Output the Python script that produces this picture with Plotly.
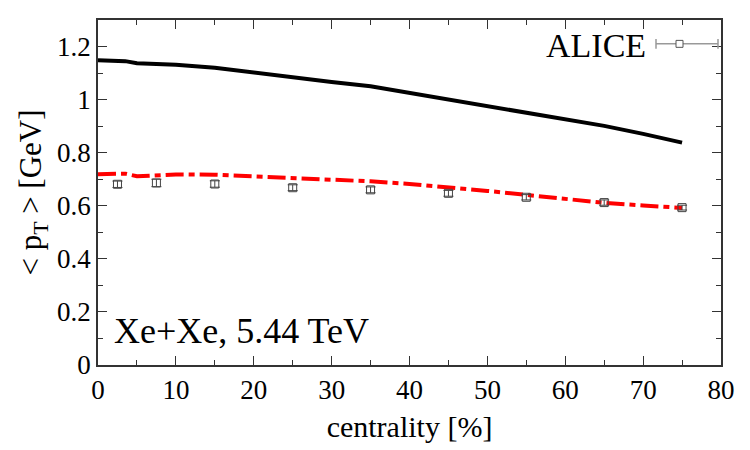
import plotly.graph_objects as go

# Model curves
cent_black = [0, 2.5, 3.5, 5, 10, 15, 20, 25, 30, 35, 40, 45, 50, 55, 60, 65, 70, 75]
pt_black = [1.148, 1.147, 1.145, 1.137, 1.131, 1.120, 1.101, 1.083, 1.066, 1.050, 1.025, 1.001, 0.976, 0.951, 0.926, 0.901, 0.871, 0.838]

cent_red = [0, 2.5, 3.5, 5, 10, 15, 20, 25, 30, 35, 40, 45, 50, 55, 60, 65, 70, 75]
pt_red = [0.719, 0.719, 0.721, 0.711, 0.718, 0.717, 0.711, 0.705, 0.699, 0.692, 0.682, 0.670, 0.656, 0.641, 0.626, 0.611, 0.601, 0.592]

# ALICE data
cent_alice = [2.5, 7.5, 15, 25, 35, 45, 55, 65, 75]
pt_alice = [0.681, 0.686, 0.682, 0.668, 0.660, 0.647, 0.632, 0.612, 0.593]
err_alice = [0.012, 0.014, 0.012, 0.011, 0.011, 0.011, 0.010, 0.010, 0.009]

FONT = "Liberation Serif"

fig = go.Figure()
fig.add_trace(go.Scatter(x=cent_black, y=pt_black, mode="lines",
                         line=dict(color="black", width=4), showlegend=False))
fig.add_trace(go.Scatter(x=cent_red, y=pt_red, mode="lines",
                         line=dict(color="#ff0000", width=4, dash="18px,5px,6px,5px"),
                         showlegend=False))
fig.add_trace(go.Scatter(x=cent_alice, y=pt_alice, mode="markers",
                         marker=dict(symbol="square-open", size=8, color="#444",
                                     line=dict(width=1, color="#444")),
                         error_y=dict(type="data", array=err_alice, color="#444",
                                      thickness=1, width=5),
                         showlegend=False))

axis_common = dict(showline=True, linecolor="#333", linewidth=1.5, mirror="ticks",
                   ticks="inside", ticklen=9, tickwidth=1, tickcolor="#333",
                   showgrid=False, zeroline=False,
                   tickfont=dict(family=FONT, size=27, color="black"))

fig.update_xaxes(range=[0, 80], tick0=0, dtick=10,
                 minor=dict(ticks="inside", ticklen=5, dtick=5, tickcolor="#333"),
                 title=dict(text="centrality [%]", font=dict(family=FONT, size=30, color="black"),
                            standoff=12),
                 **axis_common)
fig.update_yaxes(range=[0, 1.3], tick0=0, dtick=0.2,
                 minor=dict(ticks="inside", ticklen=5, dtick=0.1, tickcolor="#333"),
                 title=dict(text="&lt; p<sub>T</sub> &gt; [GeV]",
                            font=dict(family=FONT, size=31, color="black"), standoff=6),
                 **axis_common)

def px(xp):
    return (xp - 98) / (721 - 98)
def py(yp):
    return (367 - yp) / (367 - 20)

fig.add_annotation(x=px(648), y=py(46), xref="paper", yref="paper", text="ALICE",
                   showarrow=False, font=dict(family=FONT, size=34, color="black"),
                   xanchor="right", yanchor="middle")

fig.add_annotation(x=px(112), y=py(333), xref="paper", yref="paper", text="Xe+Xe, 5.44 TeV",
                   showarrow=False, font=dict(family=FONT, size=36, color="black"),
                   xanchor="left", yanchor="middle")

# legend sample (horizontal error bar with open square)
ly = py(44)
fig.add_shape(type="line", xref="paper", yref="paper", x0=px(656), x1=px(718), y0=ly, y1=ly,
              line=dict(color="#999", width=1.5))
fig.add_shape(type="line", xref="paper", yref="paper", x0=px(656), x1=px(656), y0=py(39), y1=py(49),
              line=dict(color="#999", width=1.5))
fig.add_shape(type="line", xref="paper", yref="paper", x0=px(718), x1=px(718), y0=py(39), y1=py(49),
              line=dict(color="#999", width=1.5))
fig.add_shape(type="rect", xref="paper", yref="paper", x0=px(676), x1=px(683), y0=py(40.5), y1=py(47.5),
              line=dict(color="#555", width=1), fillcolor="white")

fig.update_layout(width=750, height=450, margin=dict(l=98, r=29, t=20, b=83),
                  plot_bgcolor="white", paper_bgcolor="white",
                  font=dict(family=FONT, color="black"))

fig.write_html("out.html")
